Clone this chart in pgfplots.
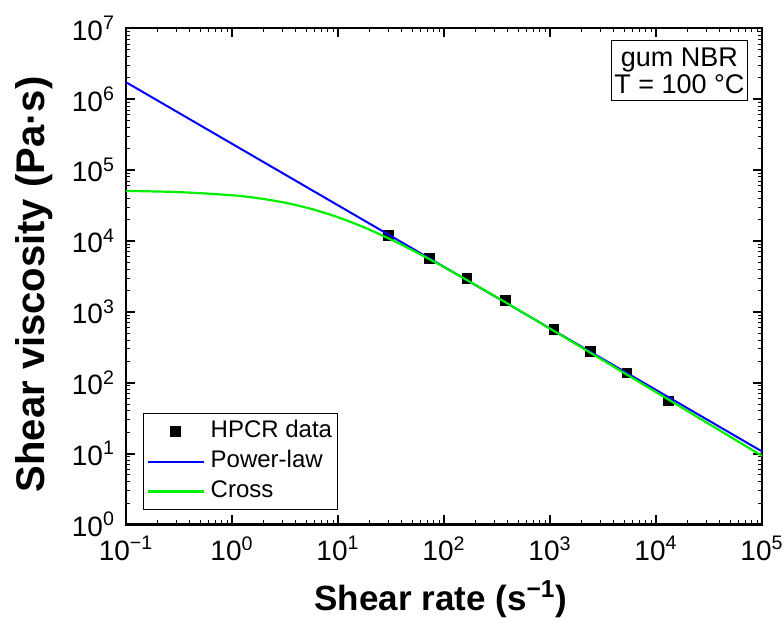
\documentclass[border=0pt]{standalone}
\usepackage{fontspec}
\setmainfont{Liberation Sans}
\usepackage{pgfplots}
\pgfplotsset{compat=1.18}
\definecolor{cgreen}{RGB}{0,240,0}
\begin{document}
\begin{tikzpicture}
\begin{axis}[
  scale only axis, width=318pt, height=248pt,
  xmode=log, ymode=log,
  xmin=0.1, xmax=1e5, ymin=1, ymax=1e7,
  clip mode=individual,
  axis line style={line width=1.1pt},
  tick align=inside, xtick pos=both, ytick pos=both,
  major tick length=4.5pt, minor tick length=2pt,
  major tick style={black, line width=1pt},
  minor tick style={black, line width=0.5pt},
  xtick={0.1,1,10,100,1000,10000,100000},
  xticklabels={10\textsuperscript{−1},10\textsuperscript{0},10\textsuperscript{1},10\textsuperscript{2},10\textsuperscript{3},10\textsuperscript{4},10\textsuperscript{5}},
  ytick={1,10,100,1000,10000,100000,1000000,10000000},
  yticklabels={10\textsuperscript{0},10\textsuperscript{1},10\textsuperscript{2},10\textsuperscript{3},10\textsuperscript{4},10\textsuperscript{5},10\textsuperscript{6},10\textsuperscript{7}},
  ticklabel style={font=\fontsize{14}{16}\selectfont},
  xticklabel style={yshift=-2.5pt},
  yticklabel style={xshift=-2pt},
  xlabel={\textbf{Shear rate (s\textsuperscript{−1})}},
  ylabel={\textbf{Shear viscosity (Pa·s)}},
  xlabel style={font=\fontsize{17.5}{20}\selectfont, at={(axis description cs:0.495,-0.1734)}, anchor=base, inner sep=0pt},
  ylabel style={font=\fontsize{20}{22}\selectfont, at={(axis description cs:-0.1745,0.484)}, anchor=north, inner sep=0pt},
  legend style={at={(0.0267,0.029)}, anchor=south west, draw=black, line width=0.5pt,
    font=\fontsize{12}{14}\selectfont, inner xsep=1.5pt, inner ysep=2pt,
    nodes={inner sep=1pt, text height=9pt, text depth=3pt}, row sep=1pt, column sep=2pt},
  legend cell align=left,
  legend image code/.code={\draw[#1] (0cm,0cm) -- (28pt,0cm);},
]
\coordinate (ll) at (rel axis cs:0,0);
\coordinate (ur) at (rel axis cs:1,1);
\addplot[only marks, mark=square*, mark size=2.4pt, black,
  legend image code/.code={\draw[black, only marks, mark=square*, mark size=2.4pt] plot coordinates {(14pt,0cm)};}]
  coordinates {(29.8,12000) (72.8,5700) (164,2940) (379,1450) (1089,566) (2406,279) (5333,138) (13060,55)};
\addlegendentry{HPCR data}
\addplot[blue, line width=1pt] coordinates {(0.1,1740000) (100000,10.7)};
\addlegendentry{Power-law}
\addplot[cgreen, line width=1.1pt, smooth] coordinates {
 (0.1,50867) (0.3162,48927) (1,44180) (1.778,40087) (3.162,34693) (5.623,28299)
 (10,21612) (17.78,15474) (31.62,10478) (56.23,6795) (100,4273) (316.2,1601)
 (1000,579.6) (3162,207.1) (10000,73.69) (31623,26.17) (100000,9.288)};
\addlegendentry{Cross}
\node[draw=black, line width=0.5pt, anchor=north east, align=center, inner xsep=1.5pt, inner ysep=3.5pt,
  font=\fontsize{13.5}{13.5}\selectfont, xshift=-7pt, yshift=-5.9pt] at (rel axis cs:1,1) {gum NBR\\T = 100 °C};
\end{axis}
\pgfresetboundingbox
\path ([shift={(-63pt,-48.3pt)}]ll) rectangle ([shift={(11pt,14.2pt)}]ur);
\end{tikzpicture}
\end{document}
